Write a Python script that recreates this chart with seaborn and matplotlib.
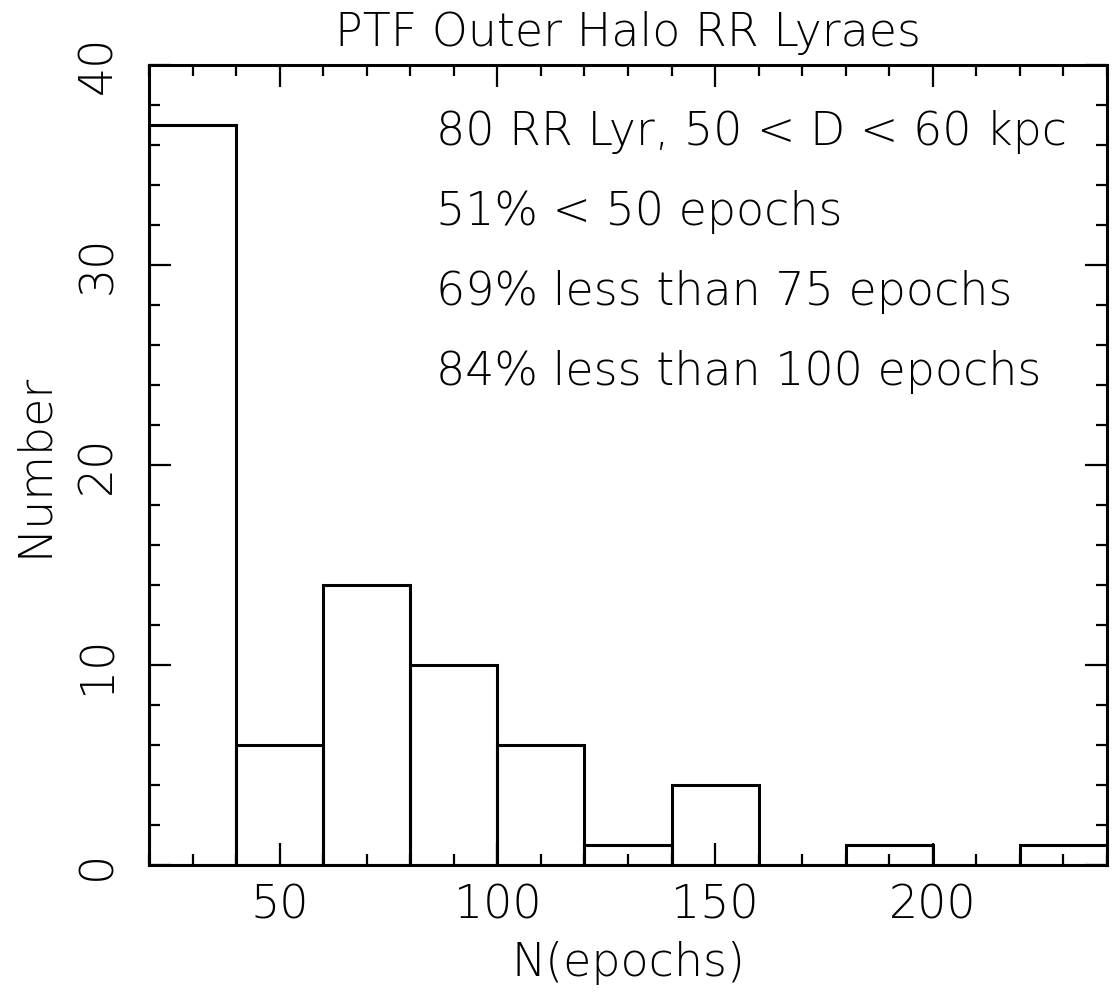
import numpy as np
import matplotlib
matplotlib.use("Agg")
import matplotlib.pyplot as plt
import seaborn as sns
from matplotlib.ticker import MultipleLocator

# Data
bin_edges = [20, 40, 60, 80, 100, 120, 140, 160, 180, 200, 220, 240]
counts = [37, 6, 14, 10, 6, 1, 4, 0, 1, 0, 1]
bin_centers = [(a + b) / 2 for a, b in zip(bin_edges[:-1], bin_edges[1:])]

title = "PTF Outer Halo RR Lyraes"
xlabel = "N(epochs)"
ylabel = "Number"
notes = ["80 RR Lyr, 50 < D < 60 kpc",
         "51% < 50 epochs",
         "69% less than 75 epochs",
         "84% less than 100 epochs"]
note_y = [36, 32, 28, 24]
note_x = 86

sns.set_style("ticks")
plt.rcParams['font.family'] = ['DejaVu Sans']
for k in ['text.color', 'axes.labelcolor', 'xtick.color', 'ytick.color']:
    plt.rcParams[k] = 'black'
FS = 33

fig = plt.figure(figsize=(11.15, 9.97), dpi=100)
ax = fig.add_axes([149/1115, 1 - 865/997, (1107-149)/1115, (865-65)/997])

sns.histplot(x=bin_centers, weights=counts, bins=bin_edges, element="bars",
             fill=False, color="black", linewidth=2.2, ax=ax)

ax.set_xlim(20, 240)
ax.set_ylim(0, 40)
ax.xaxis.set_major_locator(MultipleLocator(50))
ax.xaxis.set_minor_locator(MultipleLocator(10))
ax.yaxis.set_major_locator(MultipleLocator(10))
ax.yaxis.set_minor_locator(MultipleLocator(2))

for s in ax.spines.values():
    s.set_visible(True)
    s.set_linewidth(2.2)
    s.set_color("black")

ax.tick_params(which="both", direction="in", top=True, right=True,
               color="black", width=1.6)
ax.tick_params(which="major", length=16)
ax.tick_params(which="minor", length=8)
ax.tick_params(axis="x", which="major", labelsize=FS, pad=13)
ax.tick_params(axis="y", which="major", labelsize=FS, pad=21, labelrotation=90)
for lab in ax.get_yticklabels():
    lab.set_va("center")
    lab.set_fontweight("light")
for lab in ax.get_xticklabels():
    lab.set_fontweight("light")

ax.set_title(title, fontsize=FS, pad=14, fontweight="light")
ax.set_xlabel(xlabel, fontsize=FS, labelpad=10, fontweight="light")
ax.set_ylabel(ylabel, fontsize=FS, labelpad=14, fontweight="light")

for t, y in zip(notes, note_y):
    ax.text(note_x, y, t, fontsize=FS, va="baseline", ha="left",
            clip_on=True, fontweight="light")

fig.savefig("out.png", dpi=100)
